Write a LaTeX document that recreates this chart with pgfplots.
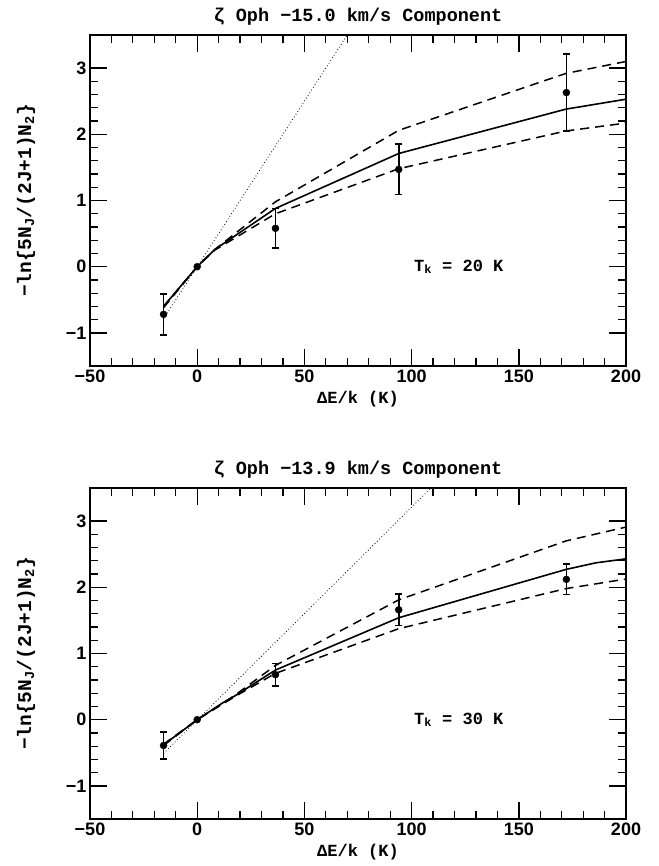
\documentclass[border=0pt]{standalone}
\usepackage{pgfplots}
\pgfplotsset{compat=1.18}
\usepackage{fontspec}
\setmainfont{Liberation Mono}
\newfontfamily\tickfont{Liberation Sans}

\pgfplotsset{
  zoph/.style={
    scale only axis,
    width=536pt, height=331pt,
    xmin=-50, xmax=200, ymin=-1.5, ymax=3.5,
    xtick={-50,0,50,100,150,200},
    xticklabels={−50,0,50,100,150,200},
    ytick={-1,0,1,2,3},
    yticklabels={−1,0,1,2,3},
    minor x tick num=4, minor y tick num=4,
    tick align=inside,
    xtick pos=both, ytick pos=both,
    major tick length=17pt, minor tick length=8pt,
    axis line style={line width=1.7pt},
    major tick style={line width=1.4pt, black},
    minor tick style={line width=1.2pt, black},
    tick label style={font=\tickfont\bfseries\fontsize{18}{18}\selectfont},
    xlabel style={font=\bfseries\fontsize{17}{17}\selectfont, yshift=-2pt},
    ylabel style={font=\bfseries\fontsize{19.5}{19.5}\selectfont},
    ylabel shift=24pt,
    title style={font=\bfseries\fontsize{18.5}{18.5}\selectfont},
    xlabel={ΔE/k (K)},
    ylabel={−ln\{5N\textsubscript{J}/(2J+1)N\textsubscript{2}\}},
  },
  model/.style={black, line width=1.6pt},
  bound/.style={black, line width=1.5pt, dash pattern=on 9pt off 6pt},
  boltz/.style={black, line width=0.8pt, dash pattern=on 0.8pt off 2.4pt},
  obs/.style={black, only marks, mark=*, mark size=3.5pt,
    error bars/.cd, y dir=both, y explicit,
    error bar style={line width=1.6pt},
    error mark options={rotate=90, mark size=3.3pt, line width=1.6pt}},
}

\begin{document}
\begin{tikzpicture}
\useasboundingbox (0pt,0pt) rectangle (658pt,866pt);

% upper panel: -15.0 km/s component
\begin{axis}[zoph, at={(90pt,500pt)}, anchor=south west,
  title={ζ Oph −15.0 km/s Component}]
  \addplot[boltz] coordinates {(-15.7,-0.785) (70,3.5)};
  \addplot[bound] coordinates {(-15.7,-0.6) (0,0) (8.2,0.26) (36.5,0.98) (94,2.06) (172,2.92) (200,3.10)};
  \addplot[bound] coordinates {(-15.7,-0.62) (0,0) (8.2,0.25) (36.5,0.80) (94,1.48) (172,2.05) (200,2.17)};
  \addplot[model] coordinates {(-15.7,-0.6) (0,0) (8.2,0.26) (36.5,0.88) (94,1.71) (172,2.38) (200,2.53)};
  \addplot[obs] table[y error=e] {
    x y e
    -15.7 -0.72 0.31
    0 0 0
    36.5 0.58 0.30
    94 1.47 0.38
    172.2 2.63 0.58
  };
  \node[font=\bfseries\fontsize{17}{17}\selectfont] at (axis cs:122,0) {T\textsubscript{k} = 20 K};
\end{axis}

% lower panel: -13.9 km/s component
\begin{axis}[zoph, at={(90pt,47pt)}, anchor=south west,
  title={ζ Oph −13.9 km/s Component}]
  \addplot[boltz] coordinates {(-15.7,-0.51) (109,3.5)};
  \addplot[bound] coordinates {(-15.7,-0.37) (0,0) (17.6,0.37) (36.5,0.82) (94,1.81) (172,2.70) (200,2.91)};
  \addplot[bound] coordinates {(-15.7,-0.39) (0,0) (17.6,0.35) (36.5,0.70) (94,1.375) (172,1.98) (200,2.125)};
  \addplot[model] coordinates {(-15.7,-0.38) (0,0) (11.7,0.25) (17.6,0.36) (36.5,0.75) (94,1.54) (172,2.27) (186,2.37) (200,2.43)};
  \addplot[obs] table[y error=e] {
    x y e
    -15.7 -0.39 0.20
    0 0 0
    36.5 0.68 0.17
    94 1.66 0.24
    172.2 2.12 0.23
  };
  \node[font=\bfseries\fontsize{17}{17}\selectfont] at (axis cs:122,0) {T\textsubscript{k} = 30 K};
\end{axis}
\end{tikzpicture}
\end{document}
